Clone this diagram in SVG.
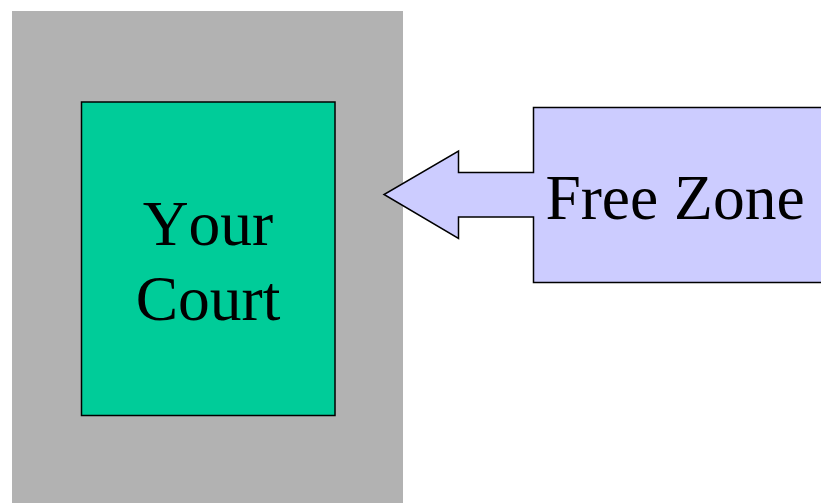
<svg xmlns="http://www.w3.org/2000/svg" width="821" height="503" viewBox="0 0 821 503">
<style>
.lbl{font-family:"Liberation Serif","Times New Roman",serif;font-size:63.5px;fill:#000;text-anchor:middle;font-kerning:none}
.stroke{stroke:#000;stroke-width:1.5}
</style>
<rect x="0" y="0" width="821" height="503" fill="#fff"/>
<g id="zone">
<rect x="12" y="11" width="391" height="492" fill="#b2b2b2"/>
</g>
<g id="court">
<rect x="81.5" y="102" width="253.5" height="313.5" fill="#00cc99" class="stroke"/>
<text class="lbl" x="208" y="245">Your</text>
<text class="lbl" x="208" y="320">Court</text>
</g>
<g id="free-zone">
<path d="M830,107.5 L533.5,107.5 L533.5,172.5 L458.5,172.5 L458.5,151 L384,194.5 L458.5,238.5 L458.5,217 L533.5,217 L533.5,282.5 L830,282.5 Z" fill="#ccccff" class="stroke" stroke-linejoin="miter"/>
<text class="lbl" x="675" y="218.5">Free Zone</text>
</g>
<g id="connectors"></g>
</svg>
